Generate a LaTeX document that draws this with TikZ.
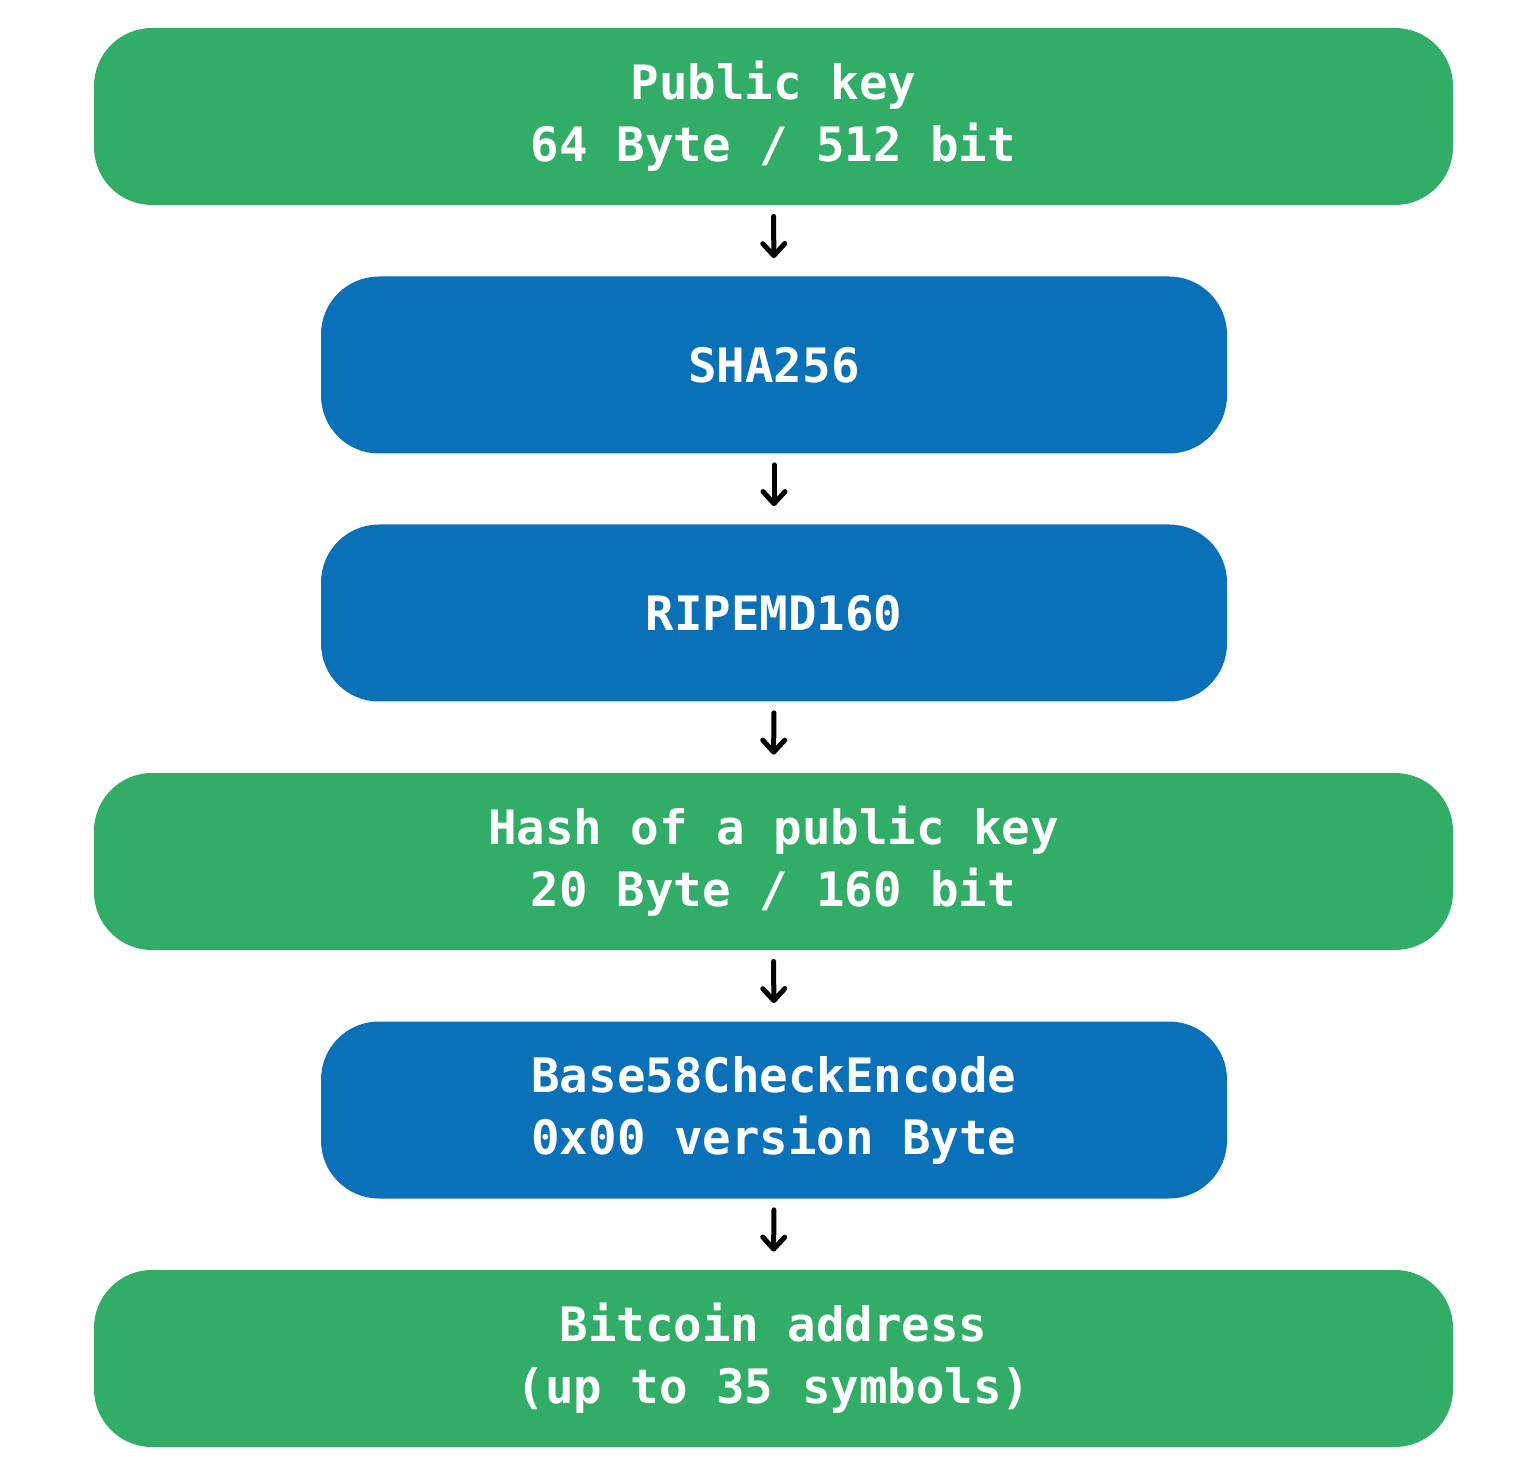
\documentclass[tikz,border=0pt]{standalone}
\usepackage{fontspec}
\setmonofont{DejaVu Sans Mono}
\usetikzlibrary{arrows.meta}
\definecolor{boxgreen}{HTML}{31AD67}
\definecolor{boxblue}{HTML}{0A70B8}
\tikzset{
  box/.style={rounded corners=29pt, inner sep=0pt, text=white, align=center,
    minimum height=88.5pt,
    font=\ttfamily\bfseries\fontsize{23.7pt}{31pt}\selectfont},
  widebox/.style={box, fill=boxgreen, minimum width=679.5pt},
  narrowbox/.style={box, fill=boxblue, minimum width=453pt},
  arr/.style={line width=2.5pt, line cap=round, shorten <=5.5pt, shorten >=9pt,
    -{Straight Barb[length=6pt,width=11pt,round]}}
}
\begin{document}
\begin{tikzpicture}[x=0.5pt,y=-0.5pt]
\useasboundingbox (0,0) rectangle (1523,1476);
\node[widebox] (pk) at (773.5,116.5) {Public key\\64 Byte / 512 bit};
\node[narrowbox] (sha) at (774,365) {SHA256};
\node[narrowbox] (rip) at (774,613) {RIPEMD160};
\node[widebox] (hash) at (773.5,861.5) {Hash of a public key\\20 Byte / 160 bit};
\node[narrowbox] (b58) at (774,1110) {Base58CheckEncode\\0x00 version Byte};
\node[widebox] (addr) at (773.5,1358.5) {Bitcoin address\\(up to 35 symbols)};
\draw[arr] (pk.south) -- (sha.north);
\draw[arr] (sha.south) -- (rip.north);
\draw[arr] (rip.south) -- (hash.north);
\draw[arr] (hash.south) -- (b58.north);
\draw[arr] (b58.south) -- (addr.north);
\end{tikzpicture}
\end{document}
